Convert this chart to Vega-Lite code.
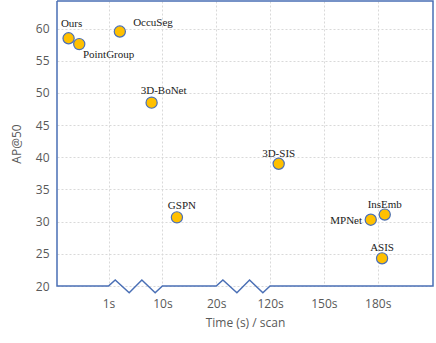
{
  "$schema": "https://vega.github.io/schema/vega-lite/v6.json",
  "width": 376,
  "height": 285,
  "autosize": {"type": "none"},
  "padding": {"left": 57, "top": 1, "right": 3, "bottom": 57},
  "background": "white",
  "config": {
    "view": {"stroke": null},
    "axis": {
      "labelFont": "Open Sans",
      "titleFont": "Open Sans",
      "labelColor": "#595959",
      "titleColor": "#595959",
      "labelFontSize": 12,
      "titleFontSize": 12,
      "titleFontWeight": "normal",
      "domain": false,
      "ticks": false,
      "gridColor": "#d9d9d9",
      "gridDash": [2, 2],
      "gridWidth": 1,
      "labelOverlap": false
    }
  },
  "datasets": {
    "pts": [
      {"method": "Ours", "pos": 0.258, "ap": 58.5},
      {"method": "PointGroup", "pos": 0.456, "ap": 57.6},
      {"method": "OccuSeg", "pos": 1.21, "ap": 59.55},
      {"method": "3D-BoNet", "pos": 1.8, "ap": 48.5},
      {"method": "GSPN", "pos": 2.27, "ap": 30.67},
      {"method": "3D-SIS", "pos": 4.16, "ap": 39.0},
      {"method": "MPNet", "pos": 5.87, "ap": 30.3},
      {"method": "InsEmb", "pos": 6.13, "ap": 31.1},
      {"method": "ASIS", "pos": 6.08, "ap": 24.3}
    ],
    "frame": [
      {"i": 0, "pos": 0.043, "ap": 64.3},
      {"i": 1, "pos": 0.043, "ap": 20},
      {"i": 2, "pos": 1.0, "ap": 20},
      {"i": 3, "pos": 1.124, "ap": 20.93},
      {"i": 4, "pos": 1.384, "ap": 18.96},
      {"i": 5, "pos": 1.619, "ap": 20.93},
      {"i": 6, "pos": 1.866, "ap": 18.96},
      {"i": 7, "pos": 2.0, "ap": 20},
      {"i": 8, "pos": 3.0, "ap": 20},
      {"i": 9, "pos": 3.124, "ap": 20.93},
      {"i": 10, "pos": 3.384, "ap": 18.96},
      {"i": 11, "pos": 3.619, "ap": 20.93},
      {"i": 12, "pos": 3.866, "ap": 18.96},
      {"i": 13, "pos": 4.0, "ap": 20},
      {"i": 14, "pos": 7.026, "ap": 20},
      {"i": 15, "pos": 7.026, "ap": 64.3},
      {"i": 16, "pos": 0.043, "ap": 64.3}
    ]
  },
  "encoding": {
    "x": {"field": "pos", "type": "quantitative", "scale": {"domain": [0.043, 7.026], "nice": false, "zero": false},
      "axis": {"values": [1, 2, 3, 4, 5, 6], "grid": true,
        "labelExpr": "['','1s','10s','20s','120s','150s','180s'][datum.value]",
        "labelPadding": 12, "title": "Time (s) / scan", "titlePadding": 8}},
    "y": {"field": "ap", "type": "quantitative", "scale": {"domain": [20, 64.3], "nice": false, "zero": false},
      "axis": {"values": [20, 25, 30, 35, 40, 45, 50, 55, 60], "grid": true, "labelPadding": 8,
        "title": "AP@50", "titlePadding": 12}}
  },
  "layer": [
    {
      "data": {"name": "frame"},
      "mark": {"type": "line", "color": "#4a6fb5", "strokeWidth": 1.5, "clip": false},
      "encoding": {
        "order": {"field": "i", "type": "quantitative"}
      }
    },
    {
      "data": {"name": "pts"},
      "mark": {"type": "point", "filled": true, "fill": "#ffc000", "stroke": "#4a6fb5", "strokeWidth": 1.2, "size": 125, "opacity": 1},
      "encoding": {}
    },
    {
      "data": {"name": "pts"},
      "transform": [{"filter": "indexof(['3D-SIS','InsEmb','ASIS'], datum.method) >= 0"}],
      "mark": {"type": "text", "font": "Liberation Serif", "fontSize": 11, "color": "#222", "baseline": "middle", "align": "center", "dy": -10},
      "encoding": {"text": {"field": "method"}}
    },
    {
      "data": {"name": "pts"},
      "transform": [{"filter": "datum.method == 'GSPN'"}],
      "mark": {"type": "text", "font": "Liberation Serif", "fontSize": 11, "color": "#222", "baseline": "middle", "align": "center", "dx": 5, "dy": -11.5},
      "encoding": {"text": {"field": "method"}}
    },
    {
      "data": {"name": "pts"},
      "transform": [{"filter": "datum.method == '3D-BoNet'"}],
      "mark": {"type": "text", "font": "Liberation Serif", "fontSize": 11, "color": "#222", "baseline": "middle", "align": "center", "dx": 12, "dy": -12},
      "encoding": {"text": {"field": "method"}}
    },
    {
      "data": {"name": "pts"},
      "transform": [{"filter": "datum.method == 'Ours'"}],
      "mark": {"type": "text", "font": "Liberation Serif", "fontSize": 11, "color": "#222", "baseline": "middle", "align": "center", "dx": 3, "dy": -14},
      "encoding": {"text": {"field": "method"}}
    },
    {
      "data": {"name": "pts"},
      "transform": [{"filter": "datum.method == 'PointGroup'"}],
      "mark": {"type": "text", "font": "Liberation Serif", "fontSize": 11, "color": "#222", "baseline": "middle", "align": "left", "dx": 3.7, "dy": 10.6},
      "encoding": {"text": {"field": "method"}}
    },
    {
      "data": {"name": "pts"},
      "transform": [{"filter": "datum.method == 'OccuSeg'"}],
      "mark": {"type": "text", "font": "Liberation Serif", "fontSize": 11, "color": "#222", "baseline": "middle", "align": "left", "dx": 13.3, "dy": -8.6},
      "encoding": {"text": {"field": "method"}}
    },
    {
      "data": {"name": "pts"},
      "transform": [{"filter": "datum.method == 'MPNet'"}],
      "mark": {"type": "text", "font": "Liberation Serif", "fontSize": 11, "color": "#222", "baseline": "middle", "align": "right", "dx": -8.7, "dy": 1},
      "encoding": {"text": {"field": "method"}}
    }
  ]
}
